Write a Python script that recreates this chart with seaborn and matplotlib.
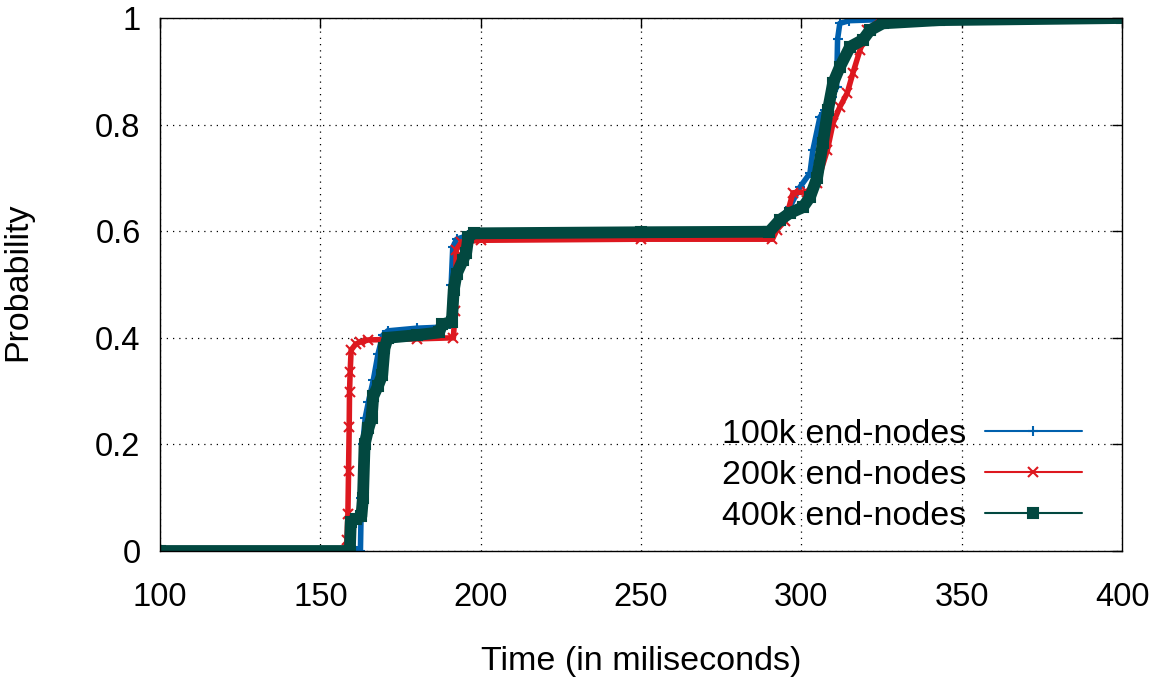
import pandas as pd
import matplotlib
matplotlib.use("Agg")
import matplotlib.pyplot as plt
import seaborn as sns
from matplotlib.lines import Line2D

# CDF curves (time in ms, cumulative probability)
time_100k = [100, 161.5, 162.5, 162.8, 163.2, 164, 165, 166.5, 168, 169.5, 171, 180, 188,
             190.3, 190.8, 191.3, 192.5, 196, 250, 289, 293, 296.4, 299.6, 302.7, 303.6,
             305.8, 307.4, 309.5, 311, 311.3, 312, 315, 330, 400]
prob_100k = [0, 0, 0, 0.1, 0.2, 0.25, 0.28, 0.32, 0.37, 0.405, 0.413, 0.418, 0.42,
             0.425, 0.5, 0.57, 0.585, 0.592, 0.595, 0.596, 0.62, 0.645, 0.683, 0.709, 0.752,
             0.814, 0.827, 0.852, 0.87, 0.96, 0.99, 0.995, 0.998, 1.0]

time_200k = [100, 157.8, 158.3, 158.6, 158.8, 159, 159.1, 159.3, 159.6, 161, 162.4, 165,
             180, 191.5, 192, 192.4, 194, 200, 250, 291, 292.3, 295, 297.4, 301.7, 304.9,
             308.1, 309.9, 312, 314.3, 316.1, 318.3, 320.5, 324.5, 400]
prob_200k = [0, 0, 0.02, 0.07, 0.15, 0.233, 0.298, 0.336, 0.377, 0.388, 0.392, 0.396,
             0.398, 0.40, 0.45, 0.565, 0.58, 0.583, 0.585, 0.585, 0.602, 0.62, 0.672, 0.674, 0.69,
             0.752, 0.803, 0.833, 0.859, 0.897, 0.94, 0.977, 0.996, 1.0]

time_400k = [100, 159.2, 159.5, 161, 162.8, 163.3, 163.8, 165, 166, 166.5, 168, 169.3, 170,
             171, 180, 187, 188, 191, 191.6, 192.5, 194.5, 195.5, 196.2, 198, 250, 290,
             293.3, 296.4, 300.5, 302.7, 304.9, 306.7, 308.3, 309.9, 312, 315.2, 319.2,
             321.4, 325.4, 343, 400]
prob_400k = [0, 0, 0.055, 0.06, 0.065, 0.1, 0.2, 0.23, 0.25, 0.29, 0.31, 0.33, 0.38,
             0.40, 0.405, 0.41, 0.425, 0.43, 0.49, 0.52, 0.546, 0.56, 0.59, 0.596, 0.598, 0.599,
             0.621, 0.634, 0.645, 0.664, 0.70, 0.765, 0.827, 0.878, 0.908, 0.946, 0.959,
             0.977, 0.99, 0.996, 1.0]

labels = ["100k end-nodes", "200k end-nodes", "400k end-nodes"]
colors = ["#0060ad", "#dd181f", "#024840"]
markers = ["+", "x", "s"]

sns.set_style("white")
plt.rcParams["font.family"] = ["Liberation Sans", "DejaVu Sans"]
plt.rcParams.update({"text.color": "black", "axes.labelcolor": "black",
                     "xtick.color": "black", "ytick.color": "black"})

fig = plt.figure(figsize=(11.55, 6.82), dpi=100)
ax = fig.add_axes([160 / 1155, 1 - 551 / 682, 962 / 1155, 533 / 682])

series = [(time_100k, prob_100k, 4.0), (time_200k, prob_200k, 4.0), (time_400k, prob_400k, 8.5)]
for (t, p, lw), col, mk in zip(series, colors, markers):
    df = pd.DataFrame({"time": t, "prob": p})
    sns.lineplot(data=df, x="time", y="prob", ax=ax, color=col, linewidth=lw,
                 marker=mk, markersize=7, markeredgewidth=1.5, markeredgecolor=col,
                 sort=False, estimator=None, solid_joinstyle="round",
                 solid_capstyle="round")
    # thin centre line like gnuplot's linespoints
    sns.lineplot(data=df, x="time", y="prob", ax=ax, color=col, linewidth=1.2,
                 sort=False, estimator=None)

ax.set_xlim(100, 400)
ax.set_ylim(0, 1)
ax.set_xticks([100, 150, 200, 250, 300, 350, 400])
ax.set_yticks([0, 0.2, 0.4, 0.6, 0.8, 1.0])
ax.set_yticklabels(["0", "0.2", "0.4", "0.6", "0.8", "1"])
ax.grid(True, color="black", linestyle=(0, (1, 4)), linewidth=0.9)
ax.tick_params(direction="in", length=7, width=1, top=True, right=True, labelsize=23.5)
ax.tick_params(axis="x", pad=22)
ax.tick_params(axis="y", pad=14)
for s in ax.spines.values():
    s.set_color("black")
    s.set_linewidth(1.0)

ax.set_xlabel("Time (in miliseconds)", fontsize=24.5)
ax.set_ylabel("Probability", fontsize=24.5)
ax.xaxis.set_label_coords(0.5, -0.178)
ax.yaxis.set_label_coords(-0.132, 0.505)

handles = [Line2D([0], [0], color=c, marker=m, markersize=7, markeredgewidth=1.5,
                  linewidth=1.5) for c, m in zip(colors, markers)]
ax.legend(handles, labels, loc="lower right", bbox_to_anchor=(0.958, 0.035),
          frameon=False, markerfirst=False, fontsize=24.5, handlelength=2.85,
          handletextpad=0.55, labelspacing=0.3, borderaxespad=0, borderpad=0)

fig.savefig("out.png", dpi=100)
